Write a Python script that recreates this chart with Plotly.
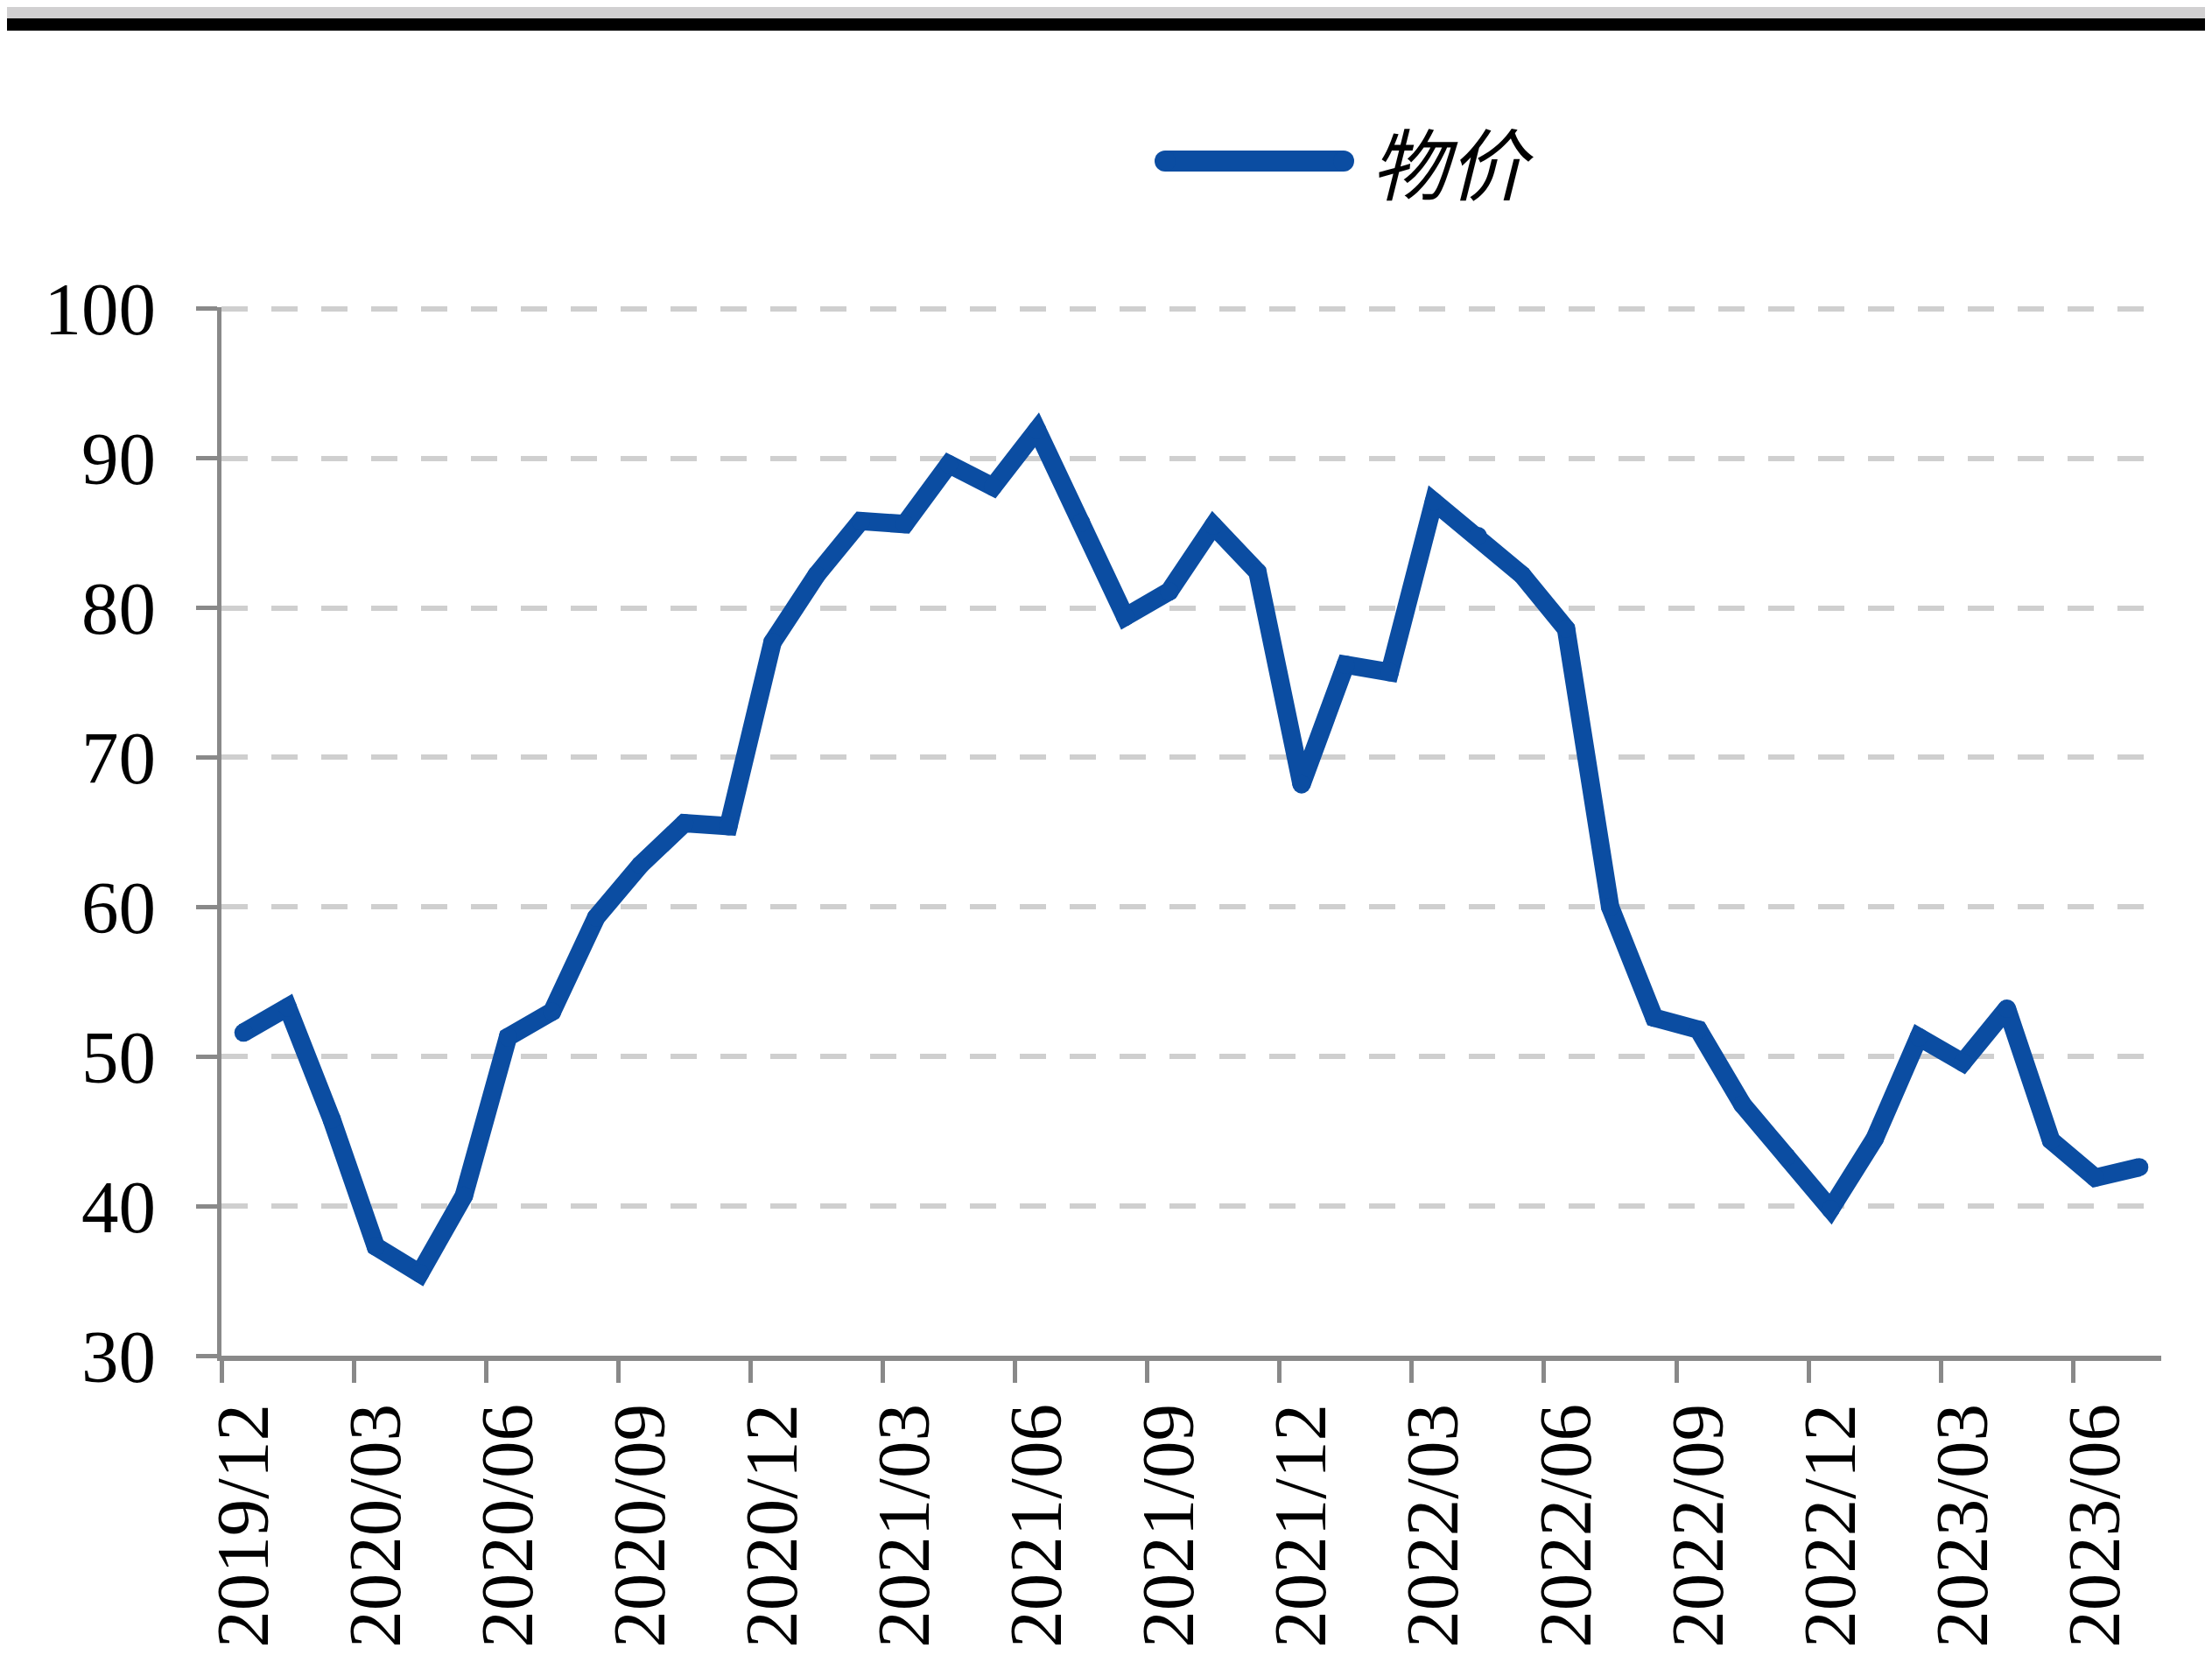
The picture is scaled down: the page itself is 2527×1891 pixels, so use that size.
import numpy as np
import plotly.graph_objects as go

months = ["2019/12","2020/01","2020/02","2020/03","2020/04","2020/05","2020/06","2020/07","2020/08","2020/09","2020/10","2020/11",
          "2020/12","2021/01","2021/02","2021/03","2021/04","2021/05","2021/06","2021/07","2021/08","2021/09","2021/10","2021/11",
          "2021/12","2022/01","2022/02","2022/03","2022/04","2022/05","2022/06","2022/07","2022/08","2022/09","2022/10","2022/11",
          "2022/12","2023/01","2023/02","2023/03","2023/04","2023/05","2023/06","2023/07"]
price = [51.6, 53.3, 45.8, 37.3, 35.5, 40.7, 51.3, 53.0, 59.3, 62.8, 65.6, 65.4,
         77.7, 82.2, 85.8, 85.6, 89.6, 88.1, 91.9, 85.7, 79.4, 81.1, 85.5, 82.4,
         68.2, 76.2, 75.7, 87.1, 84.8, 82.2, 78.6, 60.0, 52.6, 51.8, 46.8, 43.3,
         39.8, 44.5, 51.3, 49.6, 53.2, 44.4, 41.9, 42.6]
tick_labels = ["2019/12","2020/03","2020/06","2020/09","2020/12","2021/03","2021/06","2021/09",
               "2021/12","2022/03","2022/06","2022/09","2022/12","2023/03","2023/06"]
y_ticks = [30, 40, 50, 60, 70, 80, 90, 100]
series_name = "物价"

W, H = 2527, 1891
OFF = 8  # page body margin
# target plot area in page pixels
PX0, PX1, PY0, PY1 = 253, 2469, 351, 1549
L, R, T, B = PX0 - OFF, W - (PX1 - OFF), PY0 - OFF, H - (PY1 - OFF)
BLUE = "#0B4DA2"
AXIS = "#898989"
SERIF = "Liberation Serif, Times New Roman, serif"

xpos = np.arange(len(months)) + 0.5
tick_pos = [months.index(t) for t in tick_labels]

fig = go.Figure()
fig.add_trace(go.Scatter(
    x=xpos, y=price, mode="lines+markers", name=series_name,
    line=dict(color=BLUE, width=21),
    marker=dict(color=BLUE, size=21, line=dict(width=0)),
    showlegend=False, customdata=months, cliponaxis=False,
))

def py(page_y):
    """pixel offset above plot-top for a page y coordinate"""
    return PY0 - page_y

shapes = []
# top band (grey strip + black rule)
shapes.append(dict(type="rect", xref="paper", yref="paper", ysizemode="pixel", yanchor=1,
                   x0=-0.2, x1=1.1, y0=py(21), y1=py(0), fillcolor="#d1d0d1", line=dict(width=0), layer="below"))
shapes.append(dict(type="rect", xref="paper", yref="paper", ysizemode="pixel", yanchor=1,
                   x0=-0.2, x1=1.1, y0=py(35), y1=py(21), fillcolor="#000000", line=dict(width=0)))
# legend swatch (rounded line)
lx0, lx1, ly, lw = 1331, 1535, 184, 24
shapes.append(dict(type="rect", xref="paper", yref="paper", xsizemode="pixel", ysizemode="pixel",
                   xanchor=0, yanchor=1, x0=lx0 - PX0, x1=lx1 - PX0, y0=py(ly) - lw / 2, y1=py(ly) + lw / 2,
                   fillcolor=BLUE, line=dict(width=0)))
for cx in (lx0, lx1):
    shapes.append(dict(type="circle", xref="paper", yref="paper", xsizemode="pixel", ysizemode="pixel",
                       xanchor=0, yanchor=1, x0=cx - PX0 - lw / 2, x1=cx - PX0 + lw / 2,
                       y0=py(ly) - lw / 2, y1=py(ly) + lw / 2, fillcolor=BLUE, line=dict(width=0)))

plot_h = PY1 - PY0
plot_w = PX1 - PX0
fig.add_annotation(text=series_name, xref="paper", yref="paper",
                   x=(1564 - PX0) / plot_w, y=1 + (PY0 - 184) / plot_h, xanchor="left", yanchor="middle",
                   showarrow=False, font=dict(family="Noto Sans CJK SC", size=89, color="#000000", style="italic"))

fig.update_layout(
    width=W, height=H, autosize=False,
    margin=dict(l=L, r=R, t=T, b=B, pad=0, autoexpand=False),
    paper_bgcolor="white", plot_bgcolor="white",
    shapes=shapes, showlegend=False,
    font=dict(family=SERIF, color="#000000"),
)
fig.update_xaxes(
    range=[0, len(months)], tickmode="array", tickvals=tick_pos, ticktext=tick_labels,
    tickangle=-90, tickfont=dict(family=SERIF, size=85, color="#000000"),
    ticks="outside", ticklen=25, tickwidth=5, tickcolor=AXIS,
    showline=True, linecolor=AXIS, linewidth=6, showgrid=False, zeroline=False,
    ticklabelshift=25, ticklabelstandoff=-10, automargin=False,
)
fig.update_yaxes(
    range=[30, 100.1], tickmode="array", tickvals=y_ticks,
    tickfont=dict(family=SERIF, size=85, color="#000000"),
    ticks="outside", ticklen=24, tickwidth=5, tickcolor=AXIS,
    showline=True, linecolor=AXIS, linewidth=5,
    showgrid=True, gridcolor="#cfcfcf", gridwidth=6, griddash="30px,27px",
    zeroline=False, ticklabelstandoff=29, automargin=False,
)

fig.write_html("out.html")
